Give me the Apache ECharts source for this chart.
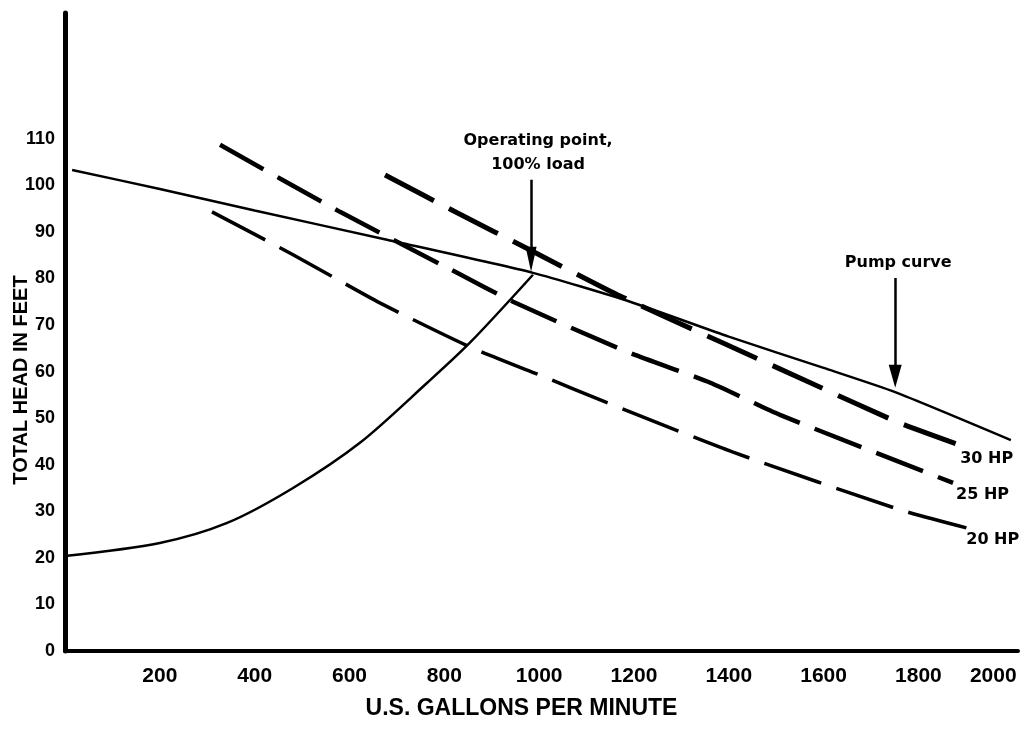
<!DOCTYPE html>
<html><head><meta charset="utf-8">
<script src="https://cdn.jsdelivr.net/npm/echarts@6/dist/echarts.min.js"></script>
<style>html,body{margin:0;padding:0;background:#fff}#c{width:1021px;height:745px}</style>
</head><body><div id="c"></div>
<script>
// Data (x: U.S. gallons per minute, y: total head in feet)
const pumpCurve   = [[15,103.3],[200,99.2],[400,94.6],[679,88.3],[987,81.2],[1192,75.0],[1400,67.5],[1600,60.8],[1751,55.6],[1995,45.3]];
const systemCurve = [[0,20.4],[200,23.2],[342,27.5],[481,35.0],[622,44.7],[764,57.6],[854,66.2],[987,80.8]];
const hp20 = [[310,94.3],[481,85.1],[665,74.7],[854,65.3],[1017,58.6],[1129,53.9],[1409,42.7],[1762,30.3],[1903,26.4]];
const hp25 = [[327,108.7],[580,94.3],[827,81.2],[945,75.0],[1177,64.6],[1361,57.6],[1508,50.7],[1873,36.1]];
const hp30 = [[675,102.2],[827,94.1],[981,86.1],[1165,76.5],[1382,66.4],[1572,57.6],[1755,49.2],[1888,44.2]];
const hpNames = ['20 HP','25 HP','30 HP'];
const xLabelMax = 2000;
const yLabelMax = 110;
// annotation arrows: [gpm, head from, head to]
const opArrow   = [983, 101.2, 84.1];
const pumpArrow = [1751, 80.1, 59.0];
const opText = 'Operating point,\n100% load';
const pumpText = 'Pump curve';

const annFont = {fontFamily:'DejaVu Sans', fontWeight:'bold', fontSize:16, color:'#000'};
const chart = echarts.init(document.getElementById('c'));
function dashed(name, data, width, dash, offset){
  return {
    name, type:'line', data, showSymbol:false, smooth:0.2, silent:true,
    lineStyle:{color:'#000', width, type:dash, cap:'butt'},
    endLabel:Object.assign({show:true, formatter:name, offset, align:'left'}, annFont)
  };
}
chart.setOption({
  animation:false,
  backgroundColor:'#fff',
  grid:{left:65, right:3, top:13, bottom:94, containLabel:false, outerBoundsMode:'none'},
  xAxis:{
    type:'value', min:0, max:2010, interval:200,
    splitLine:{show:false}, axisTick:{show:false},
    axisLine:{lineStyle:{color:'#000', width:4}},
    axisLabel:{
      margin:15, color:'#000', fontFamily:'Liberation Sans, Arial', fontWeight:'bold', fontSize:21,
      formatter:function(v){ if(v===0 || v>xLabelMax) return ''; return v===xLabelMax ? '{e|'+v+'}' : String(v); },
      rich:{e:{fontFamily:'Liberation Sans, Arial', fontWeight:'bold', fontSize:21, color:'#000', padding:[0,40,0,0]}}
    },
    name:'U.S. GALLONS PER MINUTE', nameLocation:'middle', nameGap:46, nameMoveOverlap:false,
    nameTextStyle:{color:'#000', fontFamily:'Liberation Sans, Arial', fontWeight:'bold', fontSize:23, padding:[0,40,0,0]}
  },
  yAxis:{
    type:'value', min:0, max:137, interval:10,
    splitLine:{show:false}, axisTick:{show:false},
    axisLine:{show:true, lineStyle:{color:'#000', width:5}},
    axisLabel:{
      margin:10, color:'#000', fontFamily:'Liberation Sans, Arial', fontWeight:'bold', fontSize:18,
      formatter:function(v){ return v>yLabelMax ? '' : String(v); }
    },
    name:'TOTAL HEAD IN FEET', nameLocation:'middle', nameGap:34, nameRotate:90, nameMoveOverlap:false,
    nameTextStyle:{color:'#000', fontFamily:'Liberation Sans, Arial', fontWeight:'bold', fontSize:20, padding:[0,96,0,0]}
  },
  series:[
    {
      name:'Pump curve', type:'line', data:pumpCurve, showSymbol:false, smooth:0.2, silent:true,
      lineStyle:{color:'#000', width:2.5},
      markLine:{
        silent:true, symbol:['none','triangle'],
        lineStyle:{color:'#000', width:2.5, type:'solid'},
        data:[
          [{coord:[opArrow[0],opArrow[1]], symbolSize:[11,25],
            label:Object.assign({show:true, position:'start', formatter:opText, lineHeight:24, distance:3, padding:[0,0,0,14]}, annFont)},
           {coord:[opArrow[0],opArrow[2]], symbolSize:[11,25]}],
          [{coord:[pumpArrow[0],pumpArrow[1]], symbolSize:[13,23],
            label:Object.assign({show:true, position:'start', formatter:pumpText, distance:7, padding:[0,0,0,6]}, annFont)},
           {coord:[pumpArrow[0],pumpArrow[2]], symbolSize:[13,23]}]
        ]
      }
    },
    {name:'System', type:'line', data:systemCurve, showSymbol:false, smooth:0.3, silent:true,
     lineStyle:{color:'#000', width:2.5}},
    dashed(hpNames[0], hp20, 3.5, [60,16], [-9,12]),
    dashed(hpNames[1], hp25, 4.5, [50,16], [-5,12]),
    dashed(hpNames[2], hp30, 5, [55,17], [-8,14])
  ]
});
</script></body></html>
